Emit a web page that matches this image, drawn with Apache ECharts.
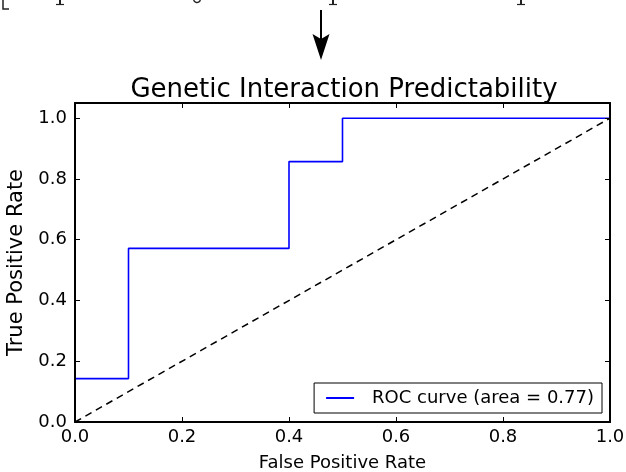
<!DOCTYPE html>
<html>
<head>
<meta charset="utf-8">
<script src="https://cdn.jsdelivr.net/npm/echarts@6/dist/echarts.min.js"></script>
<style>html,body{margin:0;padding:0;background:#fff}#c{width:626px;height:472px}</style>
</head>
<body>
<div id="c"></div>
<script>
const title = 'Genetic Interaction Predictability';
const xName = 'False Positive Rate';
const yName = 'True Positive Rate';
const legendLabel = 'ROC curve (area = 0.77)';
const fpr = [0.0, 0.0, 0.1, 0.1, 0.4, 0.4, 0.5, 0.5, 1.0];
const tpr = [0.0, 0.142857, 0.142857, 0.571429, 0.571429, 0.857143, 0.857143, 1.0, 1.0];
const diagX = [0, 1];
const diagY = [0, 1];

const F = 'DejaVu Sans';
const chart = echarts.init(document.getElementById('c'), null, {renderer: 'canvas'});
const fmt = v => v.toFixed(1);
const axisCommon = {
  type: 'value', min: 0, interval: 0.2, z: 10,
  axisLine: {show: true, onZero: false, lineStyle: {color: '#000', width: 2}},
  axisTick: {show: true, inside: true, length: 5, lineStyle: {color: '#000', width: 1}},
  splitLine: {show: false}
};
chart.setOption({
  animation: false,
  backgroundColor: '#fff',
  title: {text: title, left: 339, textAlign: 'center', top: 72,
    textStyle: {fontFamily: F, fontSize: 26, fontWeight: 'normal', color: '#000'}},
  grid: {left: 75, right: 16, top: 103, bottom: 50, containLabel: false, outerBoundsMode: 'none'},
  legend: {
    right: 24, bottom: 59,
    data: [{name: legendLabel, icon: 'rect'}],
    itemWidth: 28, itemHeight: 2,
    backgroundColor: '#fff', borderColor: '#000', borderWidth: 1, borderRadius: 0,
    padding: [6, 8, 6, 12],
    textStyle: {fontFamily: F, fontSize: 18, color: '#000', padding: [0, 0, 0, 13]}
  },
  xAxis: [
    Object.assign({}, axisCommon, {max: 1, position: 'bottom',
      name: xName, nameLocation: 'middle', nameGap: 32,
      nameTextStyle: {fontFamily: F, fontSize: 18, color: '#000'},
      axisLabel: {fontFamily: F, fontSize: 18, color: '#000', margin: 6, formatter: fmt}}),
    Object.assign({}, axisCommon, {max: 1, position: 'top', axisLabel: {show: false}})
  ],
  yAxis: [
    Object.assign({}, axisCommon, {max: 1.05, position: 'left',
      name: yName, nameLocation: 'middle', nameGap: 44,
      nameTextStyle: {fontFamily: F, fontSize: 21, color: '#000'},
      axisLabel: {fontFamily: F, fontSize: 18, color: '#000', margin: 8, showMaxLabel: false, formatter: fmt}}),
    Object.assign({}, axisCommon, {max: 1.05, position: 'right', axisLabel: {show: false}})
  ],
  series: [
    {name: legendLabel, type: 'line', data: fpr.map((x, i) => [x, tpr[i]]),
      showSymbol: false, symbol: 'none', lineStyle: {color: '#0000ff', width: 1.6}, itemStyle: {color: '#0000ff'}, z: 3},
    {name: 'chance', type: 'line', data: diagX.map((x, i) => [x, diagY[i]]),
      showSymbol: false, symbol: 'none', lineStyle: {color: '#000', width: 1.5, type: [7, 5]}, z: 2}
  ],
  graphic: [
    {type: 'line', shape: {x1: 321, y1: 10, x2: 321, y2: 42}, style: {stroke: '#000', lineWidth: 2}},
    {type: 'polygon', shape: {points: [[312.5, 34], [321, 39], [329.5, 34], [321, 60]]}, style: {fill: '#000'}},
    {type: 'polyline', shape: {points: [[3, 0], [3, 9], [9, 9]]}, style: {stroke: '#222', lineWidth: 1.5, fill: null}},
    {type: 'polyline', shape: {points: [[60, 0], [60, 4]]}, style: {stroke: '#222', lineWidth: 2, fill: null}},
    {type: 'line', shape: {x1: 56, y1: 4.5, x2: 64, y2: 4.5}, style: {stroke: '#222', lineWidth: 1.2}},
    {type: 'arc', shape: {cx: 197, cy: -1, r: 3.5, startAngle: 0.3, endAngle: Math.PI - 0.3}, style: {stroke: '#222', lineWidth: 1.4, fill: null}},
    {type: 'polyline', shape: {points: [[333, 0], [333, 4]]}, style: {stroke: '#222', lineWidth: 2, fill: null}},
    {type: 'line', shape: {x1: 329, y1: 4.5, x2: 337, y2: 4.5}, style: {stroke: '#222', lineWidth: 1.2}},
    {type: 'polyline', shape: {points: [[521, 0], [521, 4]]}, style: {stroke: '#222', lineWidth: 2, fill: null}},
    {type: 'line', shape: {x1: 517, y1: 4.5, x2: 525, y2: 4.5}, style: {stroke: '#222', lineWidth: 1.2}}
  ]
});
</script>
</body>
</html>
